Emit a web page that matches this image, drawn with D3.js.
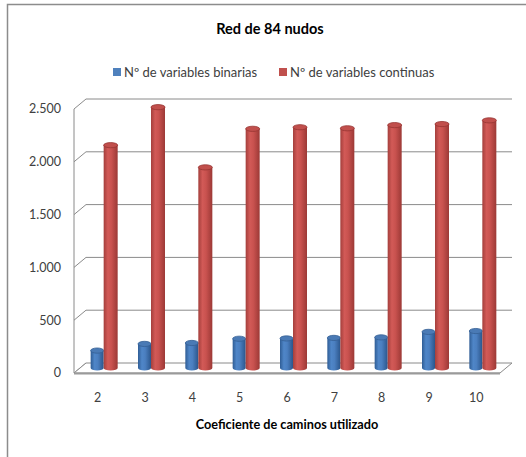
<!DOCTYPE html>
<html><head><meta charset="utf-8">
<script src="https://cdn.jsdelivr.net/npm/d3@7"></script>
<style>
html,body{margin:0;padding:0;background:#fff;}
svg{display:block;font-family:Lato, "Open Sans", sans-serif;}
</style></head>
<body>
<svg id="chart" width="526" height="457"></svg>
<script>
const categories = ["2","3","4","5","6","7","8","9","10"];
const binarias = [165, 228, 237, 277, 280, 285, 290, 342, 350];
const continuas = [2110, 2470, 1900, 2265, 2280, 2270, 2300, 2310, 2345];
const seriesNames = ["Nº de variables binarias", "Nº de variables continuas"];
const yTicks = [0, 500, 1000, 1500, 2000, 2500];
const yTickLabels = ["0", "500", "1.000", "1.500", "2.000", "2.500"];
const title = "Red de 84 nudos";
const xTitle = "Coeficiente de caminos utilizado";

const svg = d3.select("#chart");
const defs = svg.append("defs");

// outer chart border (cropped on right/bottom)
svg.append("path").attr("d","M7.5,457 L7.5,4.5 L526,4.5")
  .attr("fill","none").attr("stroke","#8c8c8c").attr("stroke-width",1.5);

const x0 = 74, x1 = 500, yBase = 373, yTop = 109;
const DX = 12, DY = -10;
const x = d3.scaleBand().domain(categories).range([x0, x1]);
const y = d3.scaleLinear().domain([0, 2500]).range([yBase, yTop]);

const gridColor = "#8a8a8a";
const grid = svg.append("g");
yTicks.forEach(t => {
  const yy = y(t);
  grid.append("line").attr("x1", x0).attr("y1", yy).attr("x2", x0+DX).attr("y2", yy+DY)
    .attr("stroke", gridColor).attr("stroke-width", 1);
  if (t > 0) grid.append("line").attr("x1", x0+DX).attr("y1", yy+DY).attr("x2", x1+DX).attr("y2", yy+DY)
    .attr("stroke", gridColor).attr("stroke-width", 1);
});
grid.append("path")
  .attr("d", `M${x0},${yBase} L${x0+DX},${yBase+DY} L${x1+DX},${yBase+DY} L${x1},${yBase} Z`)
  .attr("fill","#fff").attr("stroke", gridColor).attr("stroke-width",1);
grid.append("line").attr("x1",x0).attr("y1",yBase+0.5).attr("x2",x1).attr("y2",yBase+0.5)
  .attr("stroke","#9a9a9a").attr("stroke-width",2);
grid.append("line").attr("x1",x0).attr("y1",yTop).attr("x2",x0).attr("y2",yBase)
  .attr("stroke", gridColor).attr("stroke-width",1);

svg.append("g").selectAll("text").data(yTicks).join("text")
  .attr("x", 61).attr("y", d => y(d)).attr("dy","0.35em")
  .attr("text-anchor","end").attr("font-size", 12.5).attr("fill","#404040")
  .text((d,i) => yTickLabels[i]);

svg.append("g").selectAll("text").data(categories).join("text")
  .attr("x", d => x(d) + x.bandwidth()/2).attr("y", 398).attr("dy","0.35em")
  .attr("text-anchor","middle").attr("font-size", 12.5).attr("fill","#404040")
  .text(d => d);

function grad(id, stops) {
  const g = defs.append("linearGradient").attr("id", id).attr("x1","0").attr("x2","1").attr("y1","0").attr("y2","0");
  stops.forEach(s => g.append("stop").attr("offset", s[0]).attr("stop-color", s[1]));
}
grad("gBlue", [[0,"#2f5d95"],[0.3,"#4f86c8"],[0.55,"#4b7fc0"],[1,"#2b568c"]]);
grad("gRed", [[0,"#a43f3c"],[0.3,"#d25a57"],[0.55,"#c9524f"],[1,"#9c3936"]]);

const colors = [{body:"url(#gBlue)", top:"#4a7ab5", rim:"#355f94"},
                {body:"url(#gRed)", top:"#c14f4c", rim:"#973532"}];
const barW = 14;
const RY = 2.6;
const bars = svg.append("g");
categories.forEach((c, i) => {
  [binarias[i], continuas[i]].forEach((v, s) => {
    const cx = x(c) + x.bandwidth()/2 + (s === 0 ? -barW/2 : barW/2) + DX/2 + (s===0?0.5:0);
    const yt = y(v) + DY/2, yb = y(0) + DY/2;
    const w = s === 0 ? barW - 1 : barW;
    const col = colors[s];
    const gg = bars.append("g");
    gg.append("path")
      .attr("d", `M${cx-w/2},${yt} L${cx-w/2},${yb} A${w/2},${RY} 0 0 0 ${cx+w/2},${yb} L${cx+w/2},${yt} Z`)
      .attr("fill", col.body);
    gg.append("ellipse").attr("cx", cx).attr("cy", yt).attr("rx", w/2).attr("ry", RY)
      .attr("fill", col.top).attr("stroke", col.rim).attr("stroke-width", 0.8);
  });
});

svg.append("text").attr("x", 270).attr("y", 29).attr("dy","0.35em")
  .attr("text-anchor","middle").attr("font-size", 14.5).attr("font-weight","bold").attr("fill","#000")
  .text(title);

const leg = svg.append("g");
const legItems = [{x:113, c:"#4f81bd"}, {x:279, c:"#c0504d"}];
legItems.forEach((it, i) => {
  leg.append("rect").attr("x", it.x).attr("y", 68).attr("width", 8).attr("height", 8).attr("fill", it.c);
  leg.append("text").attr("x", it.x + 11).attr("y", 72).attr("dy","0.35em")
    .attr("font-size", 13).attr("fill","#404040").text(seriesNames[i]);
});

svg.append("text").attr("x", 287).attr("y", 425).attr("dy","0.35em")
  .attr("text-anchor","middle").attr("font-size", 12.7).attr("font-weight","bold").attr("fill","#000")
  .text(xTitle);
</script>
</body></html>
